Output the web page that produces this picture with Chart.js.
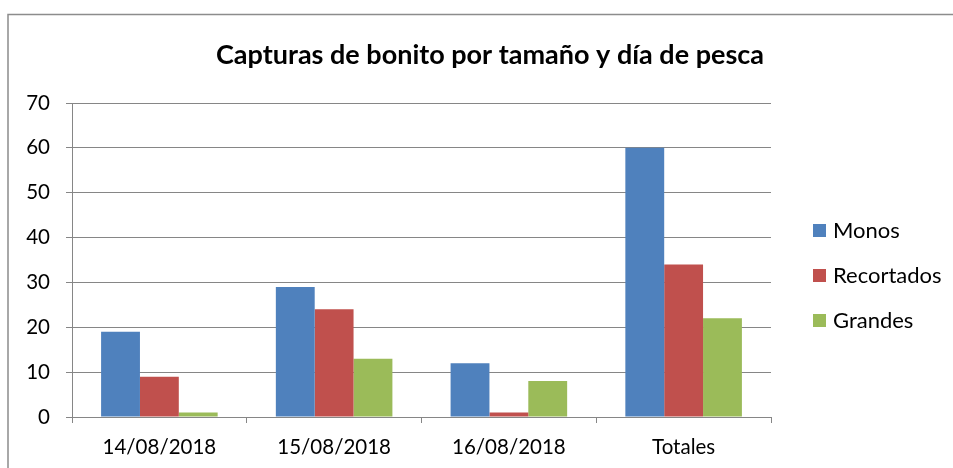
<!DOCTYPE html>
<html>
<head>
<meta charset="utf-8">
<script src="https://cdn.jsdelivr.net/npm/chart.js@4/dist/chart.umd.min.js"></script>
<style>
  html, body { margin: 0; padding: 0; background: #fff; overflow: hidden; }
  #wrap { width: 953px; height: 468px; }
</style>
</head>
<body>
<div id="wrap"><canvas id="catchChart" width="953" height="468"></canvas></div>
<script>
const chartTitle = 'Capturas de bonito por tamaño y día de pesca';
const days = ['14/08/2018', '15/08/2018', '16/08/2018', 'Totales'];
const monos = [19, 29, 12, 60];
const recortados = [9, 24, 1, 34];
const grandes = [1, 13, 8, 22];
const seriesNames = ['Monos', 'Recortados', 'Grandes'];
const seriesColors = ['#4F81BD', '#C0504D', '#9BBB59'];

const fontFamily = 'Lato, "Open Sans", sans-serif';
const gridGray = '#868686';

// Frame, title and legend drawn like the spreadsheet chart
const excelFrame = {
    id: 'excelFrame',
    beforeDraw(chart) {
        const ctx = chart.ctx;
        ctx.save();
        ctx.fillStyle = '#fff';
        ctx.fillRect(0, 0, chart.width, chart.height);
        ctx.strokeStyle = '#8c8c8c';
        ctx.lineWidth = 1.5;
        ctx.strokeRect(8, 14.5, 1100, 1000);
        ctx.restore();
    },
    afterDraw(chart) {
        const ctx = chart.ctx;
        ctx.save();
        ctx.fillStyle = '#000';
        ctx.font = 'bold 27px ' + fontFamily;
        ctx.textAlign = 'center';
        ctx.textBaseline = 'middle';
        ctx.fillText(chartTitle, 490, 55);

        ctx.font = '22px ' + fontFamily;
        ctx.textAlign = 'left';
        chart.data.datasets.forEach((ds, i) => {
            const cy = 231 + i * 45;
            ctx.fillStyle = ds.backgroundColor;
            ctx.fillRect(813, cy - 7, 13, 13);
            ctx.fillStyle = '#000';
            ctx.fillText(ds.label, 833, cy);
        });
        ctx.restore();
    }
};

const ctx = document.getElementById('catchChart').getContext('2d');

new Chart(ctx, {
    type: 'bar',
    data: {
        labels: days,
        datasets: [
            { label: seriesNames[0], data: monos, backgroundColor: seriesColors[0] },
            { label: seriesNames[1], data: recortados, backgroundColor: seriesColors[1] },
            { label: seriesNames[2], data: grandes, backgroundColor: seriesColors[2] }
        ]
    },
    options: {
        responsive: false,
        animation: false,
        devicePixelRatio: 1,
        layout: {
            padding: { left: 0, top: 103, right: 182, bottom: 0 }
        },
        datasets: {
            bar: { categoryPercentage: 0.667, barPercentage: 1.0 }
        },
        plugins: {
            legend: { display: false },
            title: { display: false },
            tooltip: { enabled: false }
        },
        scales: {
            x: {
                grid: {
                    offset: true,
                    drawOnChartArea: false,
                    drawTicks: true,
                    tickLength: 6,
                    color: gridGray
                },
                border: { color: gridGray, width: 1 },
                ticks: {
                    color: '#000',
                    padding: 12,
                    font: { family: fontFamily, size: 20.5 },
                    maxRotation: 0
                },
                afterFit(scale) { scale.height = 51; }
            },
            y: {
                min: 0,
                max: 70,
                ticks: {
                    stepSize: 10,
                    color: '#000',
                    padding: 16,
                    font: { family: fontFamily, size: 20.5 }
                },
                grid: {
                    color: gridGray,
                    drawTicks: true,
                    tickLength: 6
                },
                border: { color: gridGray, width: 1 },
                afterFit(scale) { scale.width = 72; }
            }
        }
    },
    plugins: [excelFrame]
});
</script>
</body>
</html>
